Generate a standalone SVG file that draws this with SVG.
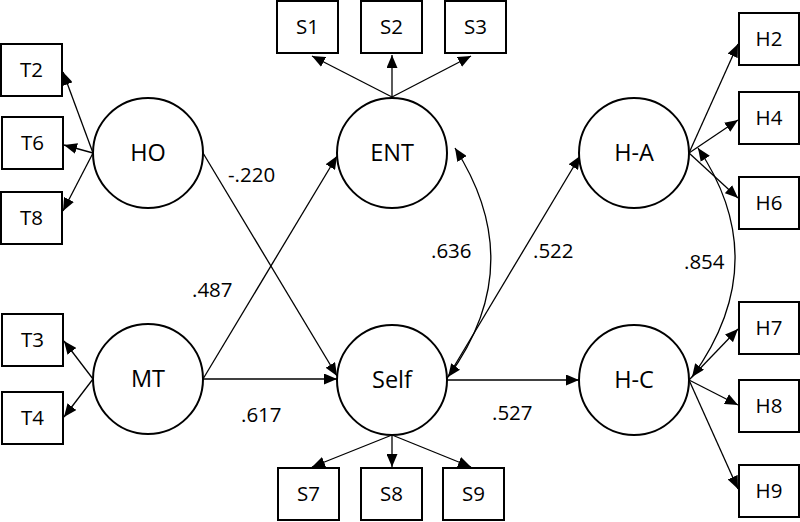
<svg xmlns="http://www.w3.org/2000/svg" width="800" height="522" viewBox="0 0 800 522">
<defs>
<marker id="ah" viewBox="0 0 13 11" refX="13" refY="5.5" markerWidth="13" markerHeight="11" markerUnits="userSpaceOnUse" orient="auto-start-reverse">
<path d="M0,0 L13,5.5 L0,11 Z" fill="#000"/>
</marker>
<style>
.lat{fill:#fff;stroke:#000;stroke-width:2}
.box{fill:#fff;stroke:#000;stroke-width:2}
.t{font-family:"Open Sans","Liberation Sans",sans-serif;fill:#000;text-anchor:middle}
.nl{font-size:23.5px}
.bl{font-size:20.5px}
.el{font-family:"Open Sans","Liberation Sans",sans-serif;font-size:20.5px;fill:#000}
.c{stroke:#000;stroke-width:1.3;fill:none;marker-end:url(#ah)}
.d{stroke:#000;stroke-width:1.3;fill:none;marker-end:url(#ah);marker-start:url(#ah)}
</style>
</defs>
<rect width="800" height="522" fill="#fff"/>
<g id="connectors">
<line class="c" x1="93" y1="153" x2="63" y2="72"/>
<line class="c" x1="93" y1="153" x2="64" y2="145"/>
<line class="c" x1="93" y1="153" x2="63" y2="211"/>
<line class="c" x1="93" y1="379" x2="64" y2="341"/>
<line class="c" x1="93" y1="379" x2="64" y2="417"/>
<line class="c" x1="392" y1="97" x2="312" y2="56"/>
<line class="c" x1="392" y1="97" x2="392" y2="55"/>
<line class="c" x1="392" y1="97" x2="471" y2="56"/>
<line class="c" x1="392" y1="435" x2="312" y2="467"/>
<line class="c" x1="392" y1="435" x2="392" y2="467"/>
<line class="c" x1="392" y1="435" x2="471" y2="467"/>
<line class="c" x1="689" y1="153" x2="738" y2="44"/>
<line class="c" x1="689" y1="153" x2="738" y2="120"/>
<line class="c" x1="689" y1="153" x2="738" y2="198"/>
<line class="c" x1="689" y1="380" x2="738" y2="329"/>
<line class="c" x1="689" y1="380" x2="738" y2="405"/>
<line class="c" x1="689" y1="380" x2="738" y2="489"/>
<line class="c" x1="203" y1="153" x2="337" y2="376"/>
<line class="c" x1="203" y1="379" x2="337" y2="156"/>
<line class="c" x1="203" y1="379" x2="337" y2="379"/>
<line class="c" x1="446" y1="380" x2="580" y2="156"/>
<line class="c" x1="446" y1="380" x2="579" y2="380"/>
<path class="d" d="M455,148 Q530,265 448,377"/>
<path class="d" d="M698,148 Q775,262 692,377"/>
</g>
<g id="HO"><circle class="lat" cx="148" cy="153" r="55"/><text class="t nl" x="148" y="161">HO</text></g>
<g id="MT"><circle class="lat" cx="148" cy="379" r="55"/><text class="t nl" x="148" y="387">MT</text></g>
<g id="ENT"><circle class="lat" cx="392" cy="153" r="55"/><text class="t nl" x="392" y="161">ENT</text></g>
<g id="Self"><circle class="lat" cx="392" cy="380" r="55"/><text class="t nl" x="392" y="388">Self</text></g>
<g id="HA"><circle class="lat" cx="634" cy="153" r="55"/><text class="t nl" x="634" y="161">H-A</text></g>
<g id="HC"><circle class="lat" cx="634" cy="380" r="55"/><text class="t nl" x="634" y="388">H-C</text></g>
<g id="T2"><rect class="box" x="1" y="44" width="61" height="52"/><text class="t bl" x="31.5" y="77">T2</text></g>
<g id="T6"><rect class="box" x="2" y="117" width="61" height="52"/><text class="t bl" x="32.5" y="150">T6</text></g>
<g id="T8"><rect class="box" x="1" y="192" width="61" height="52"/><text class="t bl" x="31.5" y="225">T8</text></g>
<g id="T3"><rect class="box" x="2" y="314" width="61" height="52"/><text class="t bl" x="32.5" y="347">T3</text></g>
<g id="T4"><rect class="box" x="2" y="392" width="61" height="52"/><text class="t bl" x="32.5" y="425">T4</text></g>
<g id="S1"><rect class="box" x="277" y="1" width="61" height="52"/><text class="t bl" x="307.5" y="34">S1</text></g>
<g id="S2"><rect class="box" x="361" y="1" width="61" height="52"/><text class="t bl" x="391.5" y="34">S2</text></g>
<g id="S3"><rect class="box" x="445" y="1" width="61" height="52"/><text class="t bl" x="475.5" y="34">S3</text></g>
<g id="S7"><rect class="box" x="278" y="468" width="61" height="52"/><text class="t bl" x="308.5" y="501">S7</text></g>
<g id="S8"><rect class="box" x="361" y="468" width="61" height="52"/><text class="t bl" x="391.5" y="501">S8</text></g>
<g id="S9"><rect class="box" x="443" y="468" width="61" height="52"/><text class="t bl" x="473.5" y="501">S9</text></g>
<g id="H2"><rect class="box" x="739" y="13" width="60" height="52"/><text class="t bl" x="769" y="46">H2</text></g>
<g id="H4"><rect class="box" x="739" y="92" width="60" height="52"/><text class="t bl" x="769" y="125">H4</text></g>
<g id="H6"><rect class="box" x="739" y="177" width="60" height="52"/><text class="t bl" x="769" y="210">H6</text></g>
<g id="H7"><rect class="box" x="739" y="302" width="60" height="52"/><text class="t bl" x="769" y="335">H7</text></g>
<g id="H8"><rect class="box" x="739" y="380" width="60" height="52"/><text class="t bl" x="769" y="413">H8</text></g>
<g id="H9"><rect class="box" x="739" y="465" width="60" height="52"/><text class="t bl" x="769" y="498">H9</text></g>
<g id="labels">
<text class="el" x="228" y="182">-.220</text>
<text class="el" x="192" y="297">.487</text>
<text class="el" x="241" y="422">.617</text>
<text class="el" x="431" y="258">.636</text>
<text class="el" x="533" y="258">.522</text>
<text class="el" x="492" y="420">.527</text>
<text class="el" x="684" y="269">.854</text>
</g>
</svg>
